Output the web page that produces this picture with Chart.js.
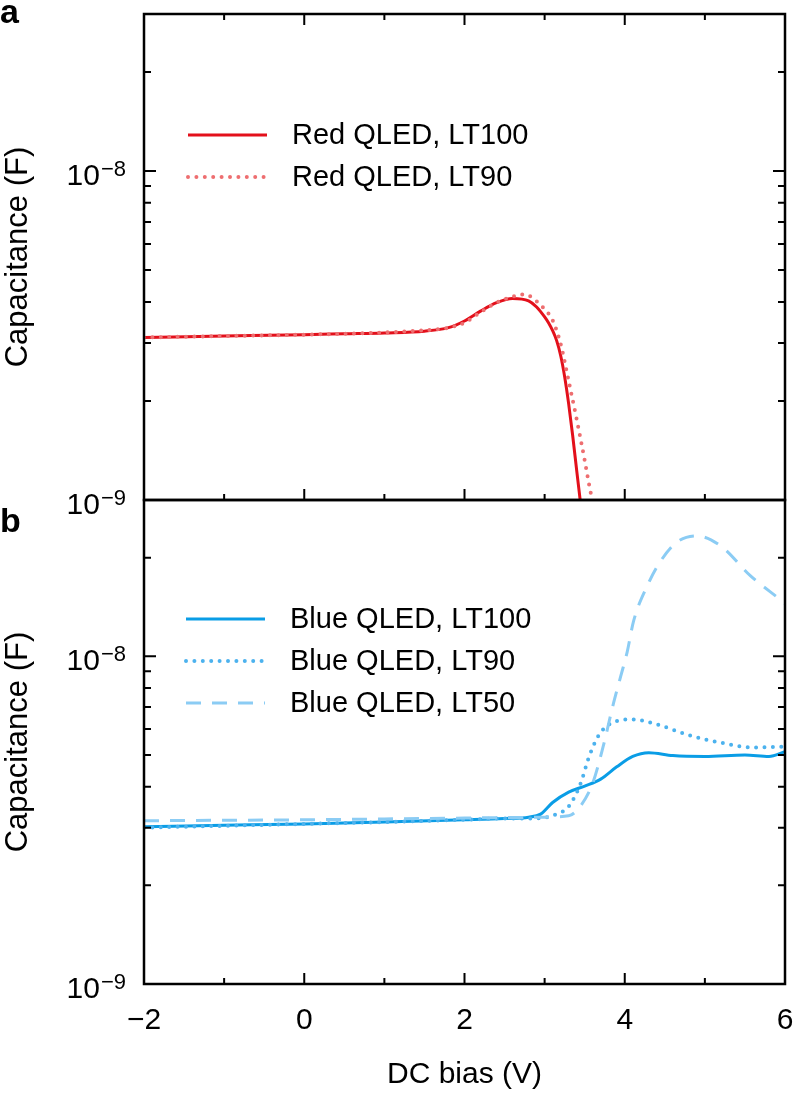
<!DOCTYPE html>
<html>
<head>
<meta charset="utf-8">
<script src="https://cdn.jsdelivr.net/npm/chart.js@4.4.0/dist/chart.umd.min.js"></script>
<style>
  html, body { margin: 0; padding: 0; background: #fff; }
  body { width: 795px; height: 1099px; position: relative; overflow: hidden; }
  canvas { position: absolute; left: 0; }
  #panelA { top: 0; }
  #panelB { top: 490px; }
</style>
</head>
<body>
<canvas id="panelA" width="795" height="530"></canvas>
<canvas id="panelB" width="795" height="609"></canvas>
<script>
// capacitance values are in nF
const redBias100 = [-2, -1, 0, 0.5, 1, 1.5, 1.8, 2.0, 2.2, 2.4, 2.6, 2.8, 2.9, 3.0, 3.05, 3.1, 3.15, 3.2, 3.25, 3.3, 3.35, 3.4, 3.45, 3.5];
const redLT100   = [3.12, 3.15, 3.18, 3.2, 3.22, 3.26, 3.34, 3.5, 3.75, 3.98, 4.1, 4.03, 3.86, 3.6, 3.45, 3.27, 3.05, 2.75, 2.37, 1.96, 1.57, 1.23, 0.97, 0.76];

const redBias90 = [-2, -1, 0, 0.5, 1, 1.5, 1.8, 2.0, 2.2, 2.4, 2.6, 2.75, 2.9, 3.0, 3.1, 3.2, 3.3, 3.4, 3.5, 3.55, 3.6, 3.65];
const redLT90   = [3.12, 3.15, 3.18, 3.2, 3.23, 3.28, 3.34, 3.46, 3.72, 3.98, 4.15, 4.22, 4.02, 3.8, 3.52, 2.98, 2.3, 1.76, 1.32, 1.13, 0.98, 0.85];

const blueBias100 = [-2, -1, 0, 1, 2, 2.5, 2.8, 2.95, 3.1, 3.3, 3.5, 3.7, 3.9, 4.1, 4.3, 4.6, 5.0, 5.5, 5.8, 6.0];
const blueLT100   = [3.02, 3.05, 3.08, 3.12, 3.17, 3.2, 3.23, 3.3, 3.58, 3.85, 4.02, 4.22, 4.6, 4.95, 5.08, 4.98, 4.95, 5.0, 4.95, 5.12];

const blueBias90 = [-2, -1, 0, 1, 2, 2.5, 2.8, 3.0, 3.15, 3.3, 3.45, 3.55, 3.65, 3.75, 3.9, 4.1, 4.4, 4.8, 5.2, 5.6, 6.0];
const blueLT90   = [3.0, 3.04, 3.08, 3.12, 3.17, 3.2, 3.2, 3.22, 3.3, 3.48, 4.1, 4.9, 5.6, 6.05, 6.35, 6.42, 6.2, 5.75, 5.45, 5.27, 5.3];

const blueBias50 = [-2, -1, 0, 1, 2, 2.5, 3.0, 3.3, 3.45, 3.6, 3.73, 3.86, 3.95, 4.03, 4.11, 4.28, 4.44, 4.65, 4.9, 5.2, 5.57, 5.94, 6.0];
const blueLT50   = [3.15, 3.16, 3.17, 3.19, 3.21, 3.22, 3.23, 3.26, 3.5, 4.1, 5.3, 7.2, 8.7, 10.3, 12.8, 16.4, 19.4, 22.3, 23.3, 21.7, 17.6, 14.9, 14.5];

const xTicks  = [-2, -1, 0, 1, 2, 3, 4, 5, 6];
const xLabels = ['−2', '', '0', '', '2', '', '4', '', '6'];
const decades = [1e-9, 1e-8];
const decadeExp = ['−9', '−8'];
const yMin = 1e-9, yMax = 3e-8;

const FONT = "'Liberation Sans', Arial, Helvetica, sans-serif";
Chart.defaults.font.family = FONT;
Chart.defaults.color = '#000';

const pts = (xs, ys) => xs.map((x, i) => ({ x: x, y: ys[i] * 1e-9 }));

// box, inward ticks, decade labels, legend and panel letter
const frame = {
  id: 'frame',
  afterDatasetsDraw(chart, args, opts) {
    const { ctx, chartArea: a } = chart;
    const x = chart.scales.x, y = chart.scales.y;
    ctx.save();
    ctx.setLineDash([]);
    ctx.strokeStyle = '#000';
    ctx.lineCap = 'butt';

    ctx.lineWidth = 2;
    ctx.beginPath();
    xTicks.forEach(v => {
      const px = x.getPixelForValue(v);
      const len = v % 2 === 0 ? 11 : 6;
      ctx.moveTo(px, a.bottom); ctx.lineTo(px, a.bottom - len);
      if (opts.topTicks) { ctx.moveTo(px, a.top); ctx.lineTo(px, a.top + len); }
    });
    decades.forEach(d => {
      for (let m = 1; m <= 9; m++) {
        const v = m * d;
        if (v < yMin * 0.999 || v > yMax * 1.001) continue;
        const py = y.getPixelForValue(v);
        const len = m === 1 ? 12 : 7;
        ctx.moveTo(a.left, py); ctx.lineTo(a.left + len, py);
        ctx.moveTo(a.right, py); ctx.lineTo(a.right - len, py);
      }
    });
    ctx.stroke();

    ctx.lineWidth = 2.5;
    ctx.strokeRect(a.left, a.top, a.right - a.left, a.bottom - a.top);

    // 10^n labels
    ctx.fillStyle = '#000';
    ctx.textBaseline = 'alphabetic';
    decades.forEach((d, i) => {
      const py = y.getPixelForValue(d);
      ctx.font = '22px ' + FONT;
      const sw = ctx.measureText(decadeExp[i]).width;
      ctx.textAlign = 'right';
      ctx.fillText(decadeExp[i], 126, py + 5);
      ctx.font = '30px ' + FONT;
      ctx.fillText('10', 126 - sw - 1, py + 14);
    });

    // legend
    const lg = opts.legend;
    ctx.textAlign = 'left';
    ctx.textBaseline = 'middle';
    chart.data.datasets.forEach((ds, i) => {
      const ly = a.top + lg.dy + i * lg.gap;
      const lx = a.left + lg.dx;
      ctx.save();
      ctx.strokeStyle = ds.borderColor;
      ctx.lineWidth = ds.borderWidth;
      ctx.lineCap = ds.borderCapStyle || 'butt';
      ctx.setLineDash(ds.borderDash || []);
      ctx.beginPath();
      ctx.moveTo(lx, ly); ctx.lineTo(lx + lg.len, ly);
      ctx.stroke();
      ctx.restore();
      ctx.font = '29px ' + FONT;
      ctx.fillStyle = '#000';
      ctx.fillText(ds.label, lx + lg.textDx, ly + 1);
    });

    // panel letter
    ctx.font = 'bold 34px ' + FONT;
    ctx.textBaseline = 'alphabetic';
    ctx.fillText(opts.letter.text, opts.letter.x, opts.letter.y);
    ctx.restore();
  }
};

function makeChart(id, datasets, o) {
  return new Chart(document.getElementById(id), {
    type: 'line',
    data: { datasets: datasets },
    options: {
      responsive: false,
      animation: false,
      layout: { padding: o.padding },
      plugins: { legend: { display: false }, tooltip: { enabled: false }, frame: o.frame },
      elements: {
        point: { radius: 0 },
        line: { cubicInterpolationMode: 'monotone', borderJoinStyle: 'round' }
      },
      scales: {
        x: {
          type: 'linear', min: -2, max: 6, display: o.showX,
          grid: { display: false, drawTicks: true, tickLength: 19 },
          border: { display: false },
          ticks: {
            stepSize: 1, autoSkip: false, maxRotation: 0, padding: 0,
            font: { size: 30 },
            callback: v => { const k = xTicks.indexOf(v); return k < 0 ? '' : xLabels[k]; }
          },
          title: { display: true, text: 'DC bias (V)', font: { size: 30 }, padding: { top: 0, bottom: 6 } },
          afterFit: s => { s.height = o.showX ? 115 : 0; }
        },
        y: {
          type: 'logarithmic', min: yMin, max: yMax,
          grid: { display: false, drawTicks: false },
          border: { display: false },
          ticks: { display: false },
          title: { display: true, text: 'Capacitance (F)', font: { size: 31 }, padding: 0 },
          afterFit: s => { s.width = 144; }
        }
      }
    },
    plugins: [frame]
  });
}

makeChart('panelA', [
  { label: 'Red QLED, LT100', data: pts(redBias100, redLT100), borderColor: '#e3101b', borderWidth: 3, order: 1 },
  { label: 'Red QLED, LT90', data: pts(redBias90, redLT90), borderColor: '#ee6e70', borderWidth: 4,
    borderDash: [0, 8.4], borderCapStyle: 'round', order: 0 }
], {
  padding: { left: 0, right: 10, top: 14, bottom: 30 },
  showX: false,
  frame: { topTicks: true, letter: { text: 'a', x: 0, y: 23 }, legend: { dx: 44, dy: 121, gap: 42, len: 79, textDx: 104 } }
});

makeChart('panelB', [
  { label: 'Blue QLED, LT100', data: pts(blueBias100, blueLT100), borderColor: '#0a9de6', borderWidth: 3, order: 2 },
  { label: 'Blue QLED, LT90', data: pts(blueBias90, blueLT90), borderColor: '#4cb2ee', borderWidth: 4,
    borderDash: [0, 8.4], borderCapStyle: 'round', order: 1 },
  { label: 'Blue QLED, LT50', data: pts(blueBias50, blueLT50), borderColor: '#8bccf4', borderWidth: 3,
    borderDash: [15, 11], order: 0 }
], {
  padding: { left: 0, right: 10, top: 10, bottom: 0 },
  showX: true,
  frame: { topTicks: false, letter: { text: 'b', x: 0, y: 42 }, legend: { dx: 42, dy: 119, gap: 42, len: 79, textDx: 104 } }
});
</script>
</body>
</html>
